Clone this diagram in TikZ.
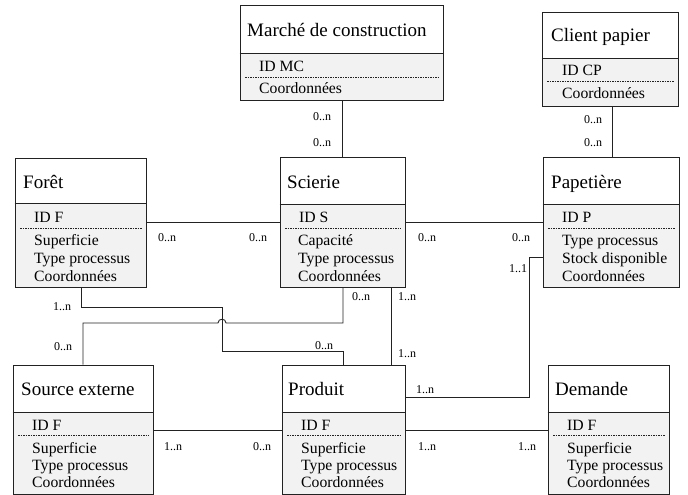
\documentclass[tikz,border=0pt]{standalone}
\usepackage{fontspec}
\setmainfont{Liberation Serif}
\usetikzlibrary{fit}
\definecolor{attrfill}{HTML}{F2F2F2}
\definecolor{linec}{HTML}{222222}
\newcommand\titlefont{\fontsize{19}{21}\selectfont}
\newcommand\attfont{\fontsize{15.7}{17}\selectfont}
\newcommand\cardfont{\fontsize{12}{13}\selectfont}
\tikzset{
  ent/.style={draw=linec, line width=0.9pt, inner sep=0pt, rectangle},
  ttl/.style={anchor=west, font=\titlefont, inner sep=0pt, text height=0.7em, text depth=0.2em, yshift=-4pt},
  att/.style={anchor=west, font=\attfont, inner sep=0pt, text height=0.7em, text depth=0.2em, yshift=-3pt},
  card/.style={font=\cardfont, inner sep=0pt},
  conn/.style={draw=linec, line width=0.9pt},
  sepl/.style={draw=linec, line width=0.8pt},
  dsep/.style={draw=linec, line width=0.7pt, dash pattern=on 1.5pt off 1pt},
}
\begin{document}
\begin{tikzpicture}[x=1pt,y=-1pt]
\useasboundingbox (0,0) rectangle (688,495);

% ---------- Marché de construction ----------
\fill[attrfill] (240,53) rectangle (443,100);
\node[ent, fit={(240,5) (443,100)}] (marche) {};
\draw[sepl] (marche.west |- 0,53) -- (marche.east |- 0,53);
\draw[dsep] (245,77) -- (439,77);
\node[ttl] (marcheT) at (247,30) {Marché de construction};
\node[att] (marcheA) at (259,66) {ID MC};
\node[att] (marcheB) at (259,88) {Coordonnées};

% ---------- Client papier ----------
\fill[attrfill] (542,58) rectangle (678,106);
\node[ent, fit={(542,12) (678,106)}] (client) {};
\draw[sepl] (client.west |- 0,58) -- (client.east |- 0,58);
\draw[dsep] (547,81) -- (674,81);
\node[ttl] (clientT) at (551,35) {Client papier};
\node[att] (clientA) at (562,70) {ID CP};
\node[att] (clientB) at (562,93) {Coordonnées};

% ---------- Forêt ----------
\fill[attrfill] (15,203) rectangle (146,287);
\node[ent, fit={(15,158) (146,287)}] (foret) {};
\draw[sepl] (foret.west |- 0,203) -- (foret.east |- 0,203);
\draw[dsep] (20,228) -- (142,228);
\node[ttl] (foretT) at (23,182) {Forêt};
\node[att] (foretA) at (34,217) {ID F};
\node[att] (foretB) at (34,240) {Superficie};
\node[att] (foretC) at (34,258) {Type processus};
\node[att] (foretD) at (34,276) {Coordonnées};

% ---------- Scierie ----------
\fill[attrfill] (280,204) rectangle (405,287);
\node[ent, fit={(280,157) (405,287)}] (scierie) {};
\draw[sepl] (scierie.west |- 0,204) -- (scierie.east |- 0,204);
\draw[dsep] (285,228) -- (401,228);
\node[ttl] (scierieT) at (287,182) {Scierie};
\node[att] (scierieA) at (299,217) {ID S};
\node[att] (scierieB) at (298,240) {Capacité};
\node[att] (scierieC) at (298,258) {Type processus};
\node[att] (scierieD) at (298,276) {Coordonnées};

% ---------- Papetière ----------
\fill[attrfill] (543,204) rectangle (679,287);
\node[ent, fit={(543,157) (679,287)}] (papet) {};
\draw[sepl] (papet.west |- 0,204) -- (papet.east |- 0,204);
\draw[dsep] (548,228) -- (675,228);
\node[ttl] (papetT) at (551,182) {Papetière};
\node[att] (papetA) at (562,217) {ID P};
\node[att] (papetB) at (562,240) {Type processus};
\node[att] (papetC) at (562,258) {Stock disponible};
\node[att] (papetD) at (562,276) {Coordonnées};

% ---------- Source externe ----------
\fill[attrfill] (13,412) rectangle (153,494);
\node[ent, fit={(13,365) (153,494)}] (source) {};
\draw[sepl] (source.west |- 0,412) -- (source.east |- 0,412);
\draw[dsep] (18,435) -- (149,435);
\node[ttl] (sourceT) at (21,389) {Source externe};
\node[att] (sourceA) at (32,425) {ID F};
\node[att] (sourceB) at (32,448) {Superficie};
\node[att] (sourceC) at (32,465) {Type processus};
\node[att] (sourceD) at (32,482) {Coordonnées};

% ---------- Produit ----------
\fill[attrfill] (282,412) rectangle (405,494);
\node[ent, fit={(282,365) (405,494)}] (produit) {};
\draw[sepl] (produit.west |- 0,412) -- (produit.east |- 0,412);
\draw[dsep] (287,435) -- (401,435);
\node[ttl] (produitT) at (288,389) {Produit};
\node[att] (produitA) at (301,425) {ID F};
\node[att] (produitB) at (301,448) {Superficie};
\node[att] (produitC) at (301,465) {Type processus};
\node[att] (produitD) at (301,482) {Coordonnées};

% ---------- Demande ----------
\fill[attrfill] (548,412) rectangle (669,494);
\node[ent, fit={(548,365) (669,494)}] (demande) {};
\draw[sepl] (demande.west |- 0,412) -- (demande.east |- 0,412);
\draw[dsep] (553,435) -- (665,435);
\node[ttl] (demandeT) at (555,389) {Demande};
\node[att] (demandeA) at (567,425) {ID F};
\node[att] (demandeB) at (567,448) {Superficie};
\node[att] (demandeC) at (567,465) {Type processus};
\node[att] (demandeD) at (567,482) {Coordonnées};

% ---------- connectors ----------
% Marché -- Scierie
\draw[conn] (marche.south -| 342,0) -- (scierie.north -| 342,0);
\node[card] at (322,117) {0..n};
\node[card] at (322,143) {0..n};
% Client -- Papetière
\draw[conn] (client.south -| 612,0) -- (papet.north -| 612,0);
\node[card] at (593,120) {0..n};
\node[card] at (593,143) {0..n};
% Forêt -- Scierie
\draw[conn] (foret.east |- 0,222) -- (scierie.west |- 0,222);
\node[card] at (167,238) {0..n};
\node[card] at (258,238) {0..n};
% Scierie -- Papetière
\draw[conn] (scierie.east |- 0,222) -- (papet.west |- 0,222);
\node[card] at (427,238) {0..n};
\node[card] at (521,238) {0..n};
% Papetière -- Produit
\coordinate (pp1) at (529,257);
\coordinate (pp2) at (529,397);
\draw[conn] (papet.west |- pp1) -- (pp1) -- (pp2) -- (produit.east |- pp2);
\node[card] at (518,269) {1..1};
\node[card] at (425,390) {1..n};
% Scierie -- Produit
\draw[conn] (scierie.south -| 391,0) -- (produit.north -| 391,0);
\node[card] at (407,297) {1..n};
\node[card] at (407,354) {1..n};
% Scierie -- Source externe (with hop)
\coordinate (ss1) at (343,323);
\coordinate (ss2) at (83,323);
\draw[conn] (scierie.south -| ss1) -- (ss1) -- (226,323)
  .. controls (226,318) and (218,318) .. (218,323) -- (ss2) -- (source.north -| ss2);
\node[card] at (361,297) {0..n};
\node[card] at (63,347) {0..n};
% Forêt -- Produit
\coordinate (fp1) at (81,307);
\coordinate (fp2) at (222,307);
\coordinate (fp3) at (222,351);
\coordinate (fp4) at (343,351);
\draw[conn] (foret.south -| fp1) -- (fp1) -- (fp2) -- (fp3) -- (fp4) -- (produit.north -| fp4);
\node[card] at (62,307) {1..n};
\node[card] at (324,346) {0..n};
% Source externe -- Produit
\draw[conn] (source.east |- 0,430) -- (produit.west |- 0,430);
\node[card] at (173,447) {1..n};
\node[card] at (262,447) {0..n};
% Produit -- Demande
\draw[conn] (produit.east |- 0,430) -- (demande.west |- 0,430);
\node[card] at (427,447) {1..n};
\node[card] at (527,447) {1..n};
\end{tikzpicture}
\end{document}
